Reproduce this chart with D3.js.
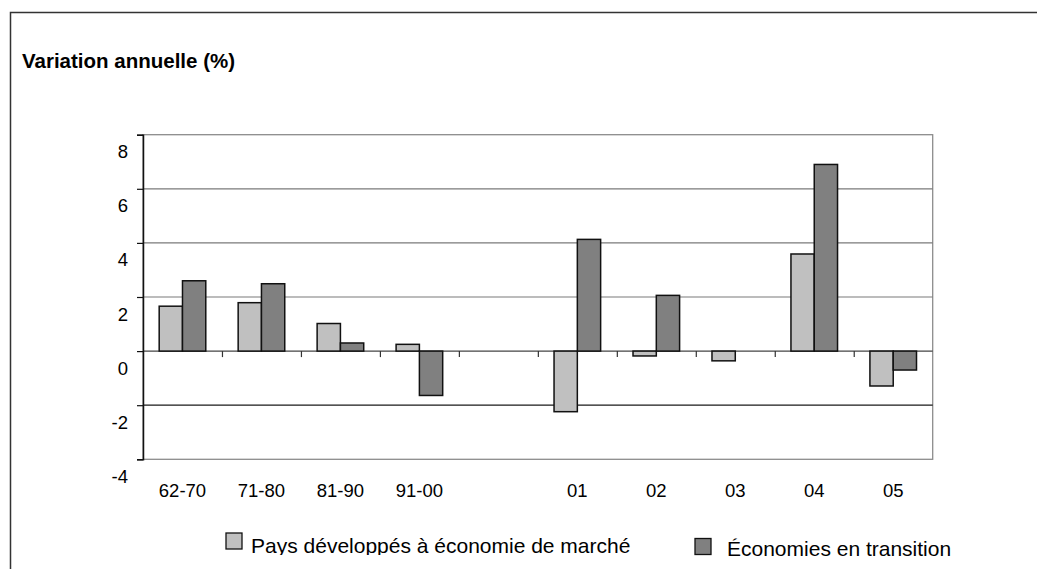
<!DOCTYPE html>
<html>
<head>
<meta charset="utf-8">
<script src="https://cdn.jsdelivr.net/npm/d3@7"></script>
<style>
  html, body { margin: 0; padding: 0; background: #fff; }
  svg { display: block; font-family: "Liberation Sans", Arial, sans-serif; }
</style>
</head>
<body>
<svg id="chart" width="1037" height="569"></svg>
<script>
// Periods on the x axis; the empty slot separates decade averages from single years
const categories = ["62-70", "71-80", "81-90", "91-00", "", "01", "02", "03", "04", "05"];
const seriesNames = ["Pays développés à économie de marché", "Économies en transition"];
const developed = [1.66, 1.79, 1.02, 0.25, null, -2.24, -0.18, -0.36, 3.59, -1.29];
const transition = [2.6, 2.49, 0.3, -1.64, null, 4.13, 2.06, 0, 6.9, -0.7];
const yTicks = [-4, -2, 0, 2, 4, 6, 8];
const fills = ["#c0c0c0", "#808080"];

const svg = d3.select("#chart");
const W = 1037, H = 569;

// Outer frame (left and top edges visible)
svg.append("path")
  .attr("d", `M10.5,${H} V12.5 H${W}`)
  .attr("fill", "none").attr("stroke", "#333").attr("stroke-width", 1.5);

svg.append("text")
  .attr("x", 22).attr("y", 68)
  .attr("font-size", 20.5).attr("font-weight", "bold")
  .attr("fill", "#000")
  .text("Variation annuelle (%)");

const plot = { left: 143, right: 932.7, top: 134.7, bottom: 459.3 };

const x = d3.scaleBand().domain(d3.range(categories.length))
  .range([plot.left, plot.right]).padding(0);
const xs = d3.scaleBand().domain([0, 1])
  .range([0, x.bandwidth()]).paddingInner(0).paddingOuter(0.695);
const y = d3.scaleLinear().domain([-4, 8]).range([plot.bottom, plot.top]);

const g = svg.append("g");

// Plot area border
g.append("rect")
  .attr("x", plot.left).attr("y", plot.top)
  .attr("width", plot.right - plot.left).attr("height", plot.bottom - plot.top)
  .attr("fill", "none").attr("stroke", "#8c8c8c").attr("stroke-width", 1.3);

// Horizontal gridlines
g.selectAll("line.grid").data(yTicks.filter(d => d > -4 && d < 8)).join("line")
  .attr("class", "grid")
  .attr("x1", plot.left).attr("x2", plot.right)
  .attr("y1", d => y(d)).attr("y2", d => y(d))
  .attr("stroke", d => d > 0 ? "#7a7a7a" : (d === 0 ? "#444" : "#1a1a1a"))
  .attr("stroke-width", 1.2);

// Bars
const rows = categories.map((c, i) => ({ i, vals: [developed[i], transition[i]] }));
const groups = g.selectAll("g.cat").data(rows).join("g")
  .attr("class", "cat")
  .attr("transform", d => `translate(${x(d.i)},0)`);
groups.selectAll("rect").data(d => d.vals.map((v, k) => ({ v, k })).filter(e => e.v !== null && e.v !== 0))
  .join("rect")
  .attr("x", d => xs(d.k))
  .attr("width", xs.bandwidth())
  .attr("y", d => y(Math.max(0, d.v)))
  .attr("height", d => Math.abs(y(d.v) - y(0)))
  .attr("fill", d => fills[d.k])
  .attr("stroke", "#111").attr("stroke-width", 1.5);

// Y axis line and ticks
const yAxis = d3.axisLeft(y).tickValues(yTicks).tickSize(6).tickFormat("");
const ya = g.append("g").attr("transform", `translate(${plot.left},0)`).call(yAxis);
ya.select(".domain").attr("stroke", "#111").attr("stroke-width", 1.5);
ya.selectAll(".tick line").attr("stroke", "#111").attr("stroke-width", 1.2);

// Y tick labels, set just below each gridline
g.selectAll("text.ylab").data(yTicks).join("text")
  .attr("class", "ylab")
  .attr("x", 128).attr("y", d => y(d) + 23.5)
  .attr("text-anchor", "end")
  .attr("font-size", 18.5).attr("fill", "#000")
  .text(d => d);

// X category tick marks on the zero line
const xa = g.append("g").attr("transform", `translate(0,${y(0)})`)
  .call(d3.axisBottom(d3.scaleLinear().domain([0, categories.length]).range([plot.left, plot.right]))
    .tickValues(d3.range(1, categories.length)).tickSize(6).tickFormat(""));
xa.select(".domain").remove();
xa.selectAll(".tick line").attr("stroke", "#333").attr("stroke-width", 1.2);

// X labels
g.selectAll("text.xlab").data(categories).join("text")
  .attr("class", "xlab")
  .attr("x", (d, i) => x(i) + x.bandwidth() / 2)
  .attr("y", 496.5)
  .attr("text-anchor", "middle")
  .attr("font-size", 18.5).attr("fill", "#000")
  .text(d => d);

// Legend
const defs = svg.append("defs");
defs.append("clipPath").attr("id", "legclip")
  .append("rect").attr("x", 0).attr("y", 0).attr("width", W).attr("height", 555);

const legend = [
  { box: [226, 533], text: [251, 553.3], clip: true },
  { box: [695, 538.5], text: [727, 555.7], clip: false }
];
legend.forEach((l, k) => {
  svg.append("rect")
    .attr("x", l.box[0]).attr("y", l.box[1])
    .attr("width", 16).attr("height", 16)
    .attr("fill", fills[k]).attr("stroke", "#111").attr("stroke-width", 1.3);
  const t = svg.append("text")
    .attr("x", l.text[0]).attr("y", l.text[1])
    .attr("font-size", 21).attr("fill", "#000")
    .text(seriesNames[k]);
  if (l.clip) t.attr("clip-path", "url(#legclip)");
});
</script>
</body>
</html>
